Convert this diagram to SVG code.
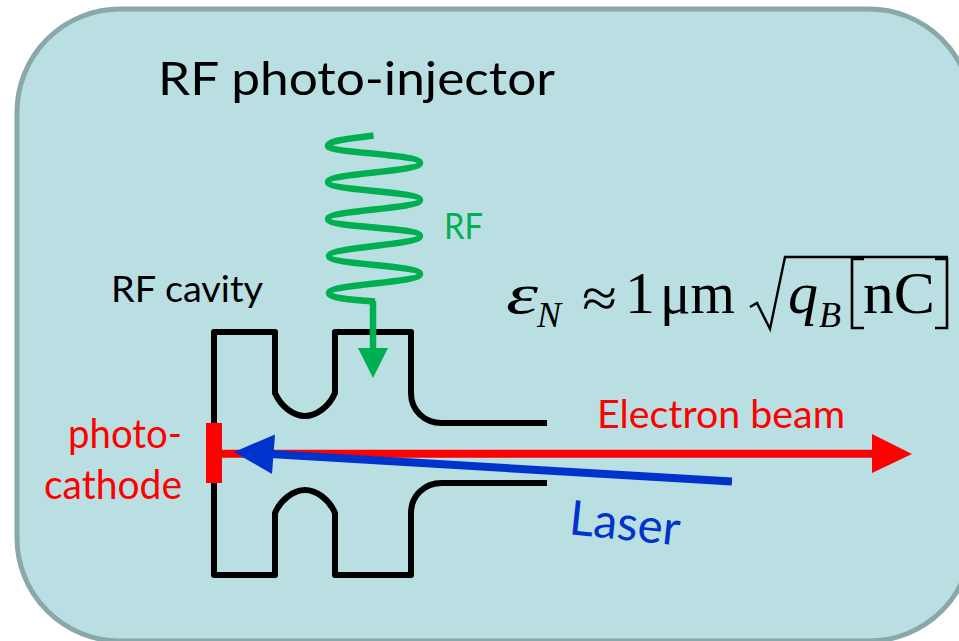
<svg xmlns="http://www.w3.org/2000/svg" width="959" height="641" viewBox="0 0 959 641">
<style>
.sans{font-family:"Lato","Open Sans","Liberation Sans",sans-serif}
.m{font-family:"Liberation Serif",serif;fill:#000}
.i{font-style:italic}
.cav{fill:none;stroke:#000;stroke-width:6;stroke-linejoin:round}
</style>
<rect width="959" height="641" fill="#fff"/>
<g id="panel"><rect x="17" y="9" width="955" height="632" rx="103" ry="103" fill="#b9dfe2" stroke="#8aa7aa" stroke-width="5"/></g>
<text id="title" class="sans" x="158" y="95" font-size="46" fill="#000" textLength="397" lengthAdjust="spacingAndGlyphs">RF photo-injector</text>
<g id="cavity">
<path class="cav" d="M547 423H442C424 423 411 410 411 393V332H335V393C329 407 316 416 305 416C294 416 281 407 275 393V332H214V575H275V513C281 499 294 490 305 490C316 490 329 499 335 513V575H411V513C411 496 424 483 442 483H547"/>
<text class="sans" x="111" y="302" font-size="36" fill="#000" textLength="152" lengthAdjust="spacingAndGlyphs">RF cavity</text>
</g>
<g id="photocathode">
<rect x="206" y="423" width="16" height="60" fill="#f00"/>
<text class="sans" x="182" y="448" font-size="40" fill="#f00" text-anchor="end" textLength="114" lengthAdjust="spacingAndGlyphs">photo-</text>
<text class="sans" x="182" y="499" font-size="40" fill="#f00" text-anchor="end" textLength="138" lengthAdjust="spacingAndGlyphs">cathode</text>
</g>
<g id="connectors">
<path d="M373.5 135.5C345 139 328 141 328 146C328 153 420 154 420 163C420 172 328 173 328 182C328 191 420 191 420 200C420 209 328 210 328 219C328 228 420 227 420 236C420 245 329 247 329 256C329 265 420 265 420 274C420 283 329 284 329 293C329 298 350 300 375 301.5" fill="none" stroke="#00b050" stroke-width="6.5"/>
<path d="M373 301V349" stroke="#00b050" stroke-width="6.5" fill="none"/>
<polygon points="358,348 388,348 373,378" fill="#00b050"/>
<path d="M222 453.7H873" stroke="#f00" stroke-width="8" fill="none"/>
<polygon points="872,434 912,454 872,473" fill="#f00"/>
<path d="M732 481.5L270 454" stroke="#0033cc" stroke-width="8" fill="none"/>
<polygon points="234,452 275,434.5 272,474" fill="#0033cc"/>
</g>
<text id="rf" class="sans" x="444" y="239" font-size="37" fill="#00b050" textLength="39" lengthAdjust="spacingAndGlyphs">RF</text>
<text id="ebeam" class="sans" x="597" y="428" font-size="39" fill="#f00" textLength="248" lengthAdjust="spacingAndGlyphs">Electron beam</text>
<text id="laser" class="sans" font-size="48" fill="#0033cc" transform="translate(568 534) rotate(6)" textLength="111" lengthAdjust="spacingAndGlyphs">Laser</text>
<g id="formula">
<text class="m i" x="506" y="313" font-size="56" textLength="32" lengthAdjust="spacingAndGlyphs">ε</text>
<text class="m i" x="537" y="327" font-size="36">N</text>
<text class="m" x="582" y="317" font-size="56" textLength="35" lengthAdjust="spacingAndGlyphs">≈</text>
<text class="m" x="625" y="313" font-size="60">1</text>
<text class="m" x="660" y="313" font-size="60" textLength="75" lengthAdjust="spacingAndGlyphs">μm</text>
<path d="M750 307L757 303L770 329L785 257H948" fill="none" stroke="#000" stroke-width="2.4"/>
<text class="m i" x="788" y="313" font-size="60">q</text>
<text class="m i" x="819" y="327" font-size="36">B</text>
<path d="M864 259H852V328H864M935 259H947V328H935" fill="none" stroke="#000" stroke-width="2.6"/>
<text class="m" x="863" y="313" font-size="60" textLength="72" lengthAdjust="spacingAndGlyphs">nC</text>
</g>
</svg>
